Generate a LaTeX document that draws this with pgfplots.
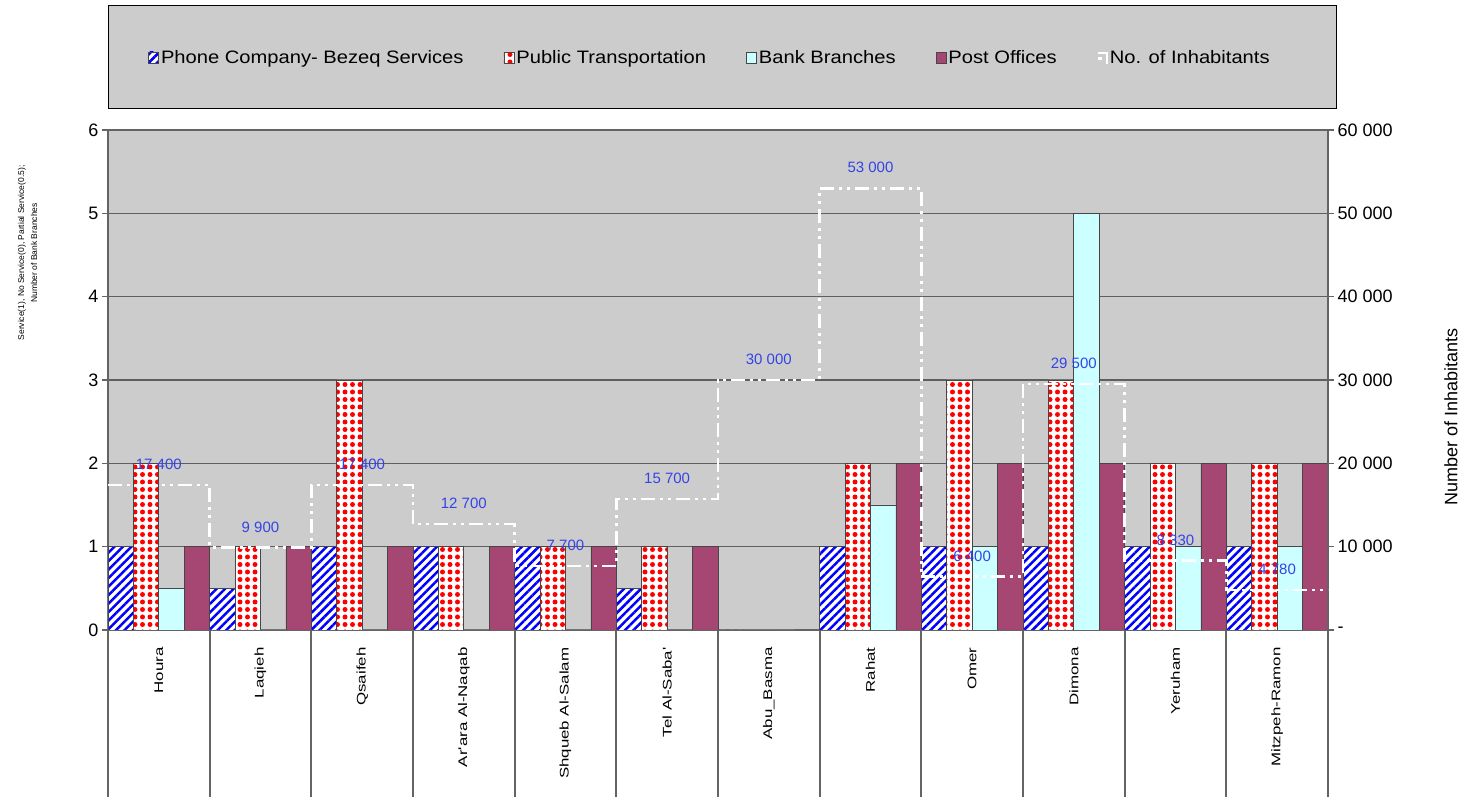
\documentclass[border=0pt]{standalone}
\usepackage{fontspec}
\setmainfont{Liberation Sans}
\newfontfamily\xlabfont[FakeStretch=1.35]{Liberation Sans}
\newfontfamily\legfont[FakeStretch=1.12]{Liberation Sans}
\usepackage{pgfplots}
\pgfplotsset{compat=1.18}
\usetikzlibrary{patterns.meta}
\definecolor{bggray}{RGB}{204,204,204}
\definecolor{gridc}{RGB}{95,95,95}
\definecolor{axc}{RGB}{100,100,100}
\definecolor{bankc}{RGB}{204,255,255}
\definecolor{postc}{RGB}{165,70,115}
\definecolor{labblue}{RGB}{51,68,230}
\definecolor{barline}{RGB}{70,70,70}
\pgfplotsset{sqlegend/.style={legend image code/.code={\draw[##1] (0pt,-5pt) rectangle (10pt,6pt);}}}
\begin{document}
\begin{tikzpicture}
\path[use as bounding box] (-108pt,-167pt) rectangle (1368pt,630pt);
\draw[fill=bggray, draw=black, line width=0.8pt] (0pt,522pt) rectangle (1228pt,625pt);
\begin{axis}[
  at={(0pt,0pt)}, anchor=south west, scale only axis,
  width=1220pt, height=500pt,
  xmin=-0.5, xmax=11.5, ymin=0, ymax=6,
  ybar=0pt, bar width=0.25,
  axis background/.style={fill=bggray},
  /pgf/number format/assume math mode=true,
  ytick={0,...,6}, ymajorgrids, grid style={gridc, line width=1.5pt},
  xtick pos=bottom, ytick pos=left,
  tick align=outside, major tick length=6pt, minor tick length=167pt,
  tick style={axc, line width=1.2pt},
  every minor tick/.append style={line width=1.8pt, axc},
  xtick={0,1,...,11},
  xticklabels={Houra,Laqieh,Qsaifeh,Ar'ara Al-Naqab,Shqueb Al-Salam,Tel Al-Saba',Abu\_Basma,Rahat,Omer,Dimona,Yeruham,Mitzpeh-Ramon},
  minor xtick={-0.5,0.5,...,11.5},
  major x tick style={/pgfplots/major tick length=0pt},
  xticklabel style={rotate=90, anchor=east, font=\xlabfont\fontsize{12.5}{14}\selectfont},
  xticklabel shift=8pt,
  yticklabel style={font=\fontsize{18}{20}\selectfont},
  axis line style={axc, line width=1.5pt},
  ylabel={Service(1), No Service(0), Partial Service(0.5);\\Number of Bank Branches},
  ylabel style={at={(axis description cs:-0.066,0.754)}, anchor=center, align=center, font=\fontsize{8.5}{13}\selectfont},
  legend style={at={(axis description cs:0.4934,1.144)}, anchor=center, draw=none, fill=none,
    font=\legfont\fontsize{18}{20}\selectfont, /tikz/every even column/.append style={column sep=38pt}},
  legend columns=5, legend cell align=left,
]
\addplot[draw=barline, line width=0.8pt, fill=white,
  postaction={pattern={Lines[angle=45,distance=6pt,line width=2.5pt]}, pattern color=blue},
  sqlegend]
coordinates {(0,1) (1,0.5) (2,1) (3,1) (4,1) (5,0.5) (6,0) (7,1) (8,1) (9,1) (10,1) (11,1)};
\addlegendentry{Phone Company- Bezeq Services}
\addplot[draw=barline, line width=0.8pt, fill=white,
  postaction={pattern={Dots[radius=2.5pt,distance=7.5pt]}, pattern color=red},
  sqlegend]
coordinates {(0,2) (1,1) (2,3) (3,1) (4,1) (5,1) (6,0) (7,2) (8,3) (9,3) (10,2) (11,2)};
\addlegendentry{Public Transportation}
\addplot[draw=barline, line width=0.8pt, fill=bankc, sqlegend]
coordinates {(0,0.5) (1,0) (2,0) (3,0) (4,0) (5,0) (6,0) (7,1.5) (8,1) (9,5) (10,1) (11,1)};
\addlegendentry{Bank Branches}
\addplot[draw=barline, line width=0.8pt, fill=postc, sqlegend]
coordinates {(0,1) (1,1) (2,1) (3,1) (4,1) (5,1) (6,0) (7,2) (8,2) (9,2) (10,2) (11,2)};
\addlegendentry{Post Offices}
\addlegendimage{legend image code/.code={\draw[white, line width=2pt] (0pt,5pt) -- (9pt,5pt) -- (9pt,-6pt); \fill[white] (0pt,-1pt) rectangle (3pt,1pt);}}
\addlegendentry{No. of Inhabitants}
\end{axis}
\begin{axis}[
  at={(0pt,0pt)}, anchor=south west, scale only axis,
  width=1220pt, height=500pt,
  xmin=-0.5, xmax=11.5, ymin=0, ymax=60000,
  axis x line=none, axis y line*=right,
  ytick={0,10000,...,60000},
  yticklabels={-,10 000,20 000,30 000,40 000,50 000,60 000},
  scaled y ticks=false,
  tick align=outside, major tick length=6pt,
  tick style={axc, line width=1.2pt},
  axis line style={axc, line width=1.5pt},
  yticklabel style={font=\fontsize{18}{20}\selectfont, anchor=west},
  ylabel={Number of Inhabitants},
  ylabel style={at={(axis description cs:1.1008,0.426)}, anchor=center, rotate=0, font=\fontsize{18}{20}\selectfont},
]
\addplot[const plot, white, line width=2.5pt, dash pattern=on 14pt off 5pt on 3pt off 5pt on 3pt off 5pt]
coordinates {(-0.5,17400) (0.5,9900) (1.5,17400) (2.5,12700) (3.5,7700) (4.5,15700) (5.5,30000) (6.5,53000) (7.5,6400) (8.5,29500) (9.5,8330) (10.5,4780) (11.5,4780)};
\addplot[draw=none, nodes near coords, point meta=explicit symbolic,
  nodes near coords style={font=\fontsize{15}{16}\selectfont, text=labblue, anchor=center, yshift=20.5pt}]
coordinates {(0,17400) [17 400] (1,9900) [9 900] (2,17400) [17 400] (3,12700) [12 700] (4,7700) [7 700] (5,15700) [15 700] (6,30000) [30 000] (7,53000) [53 000] (8,6400) [6 400] (9,29500) [29 500] (10,8330) [8 330] (11,4780) [4 780]};
\end{axis}
\end{tikzpicture}
\end{document}
